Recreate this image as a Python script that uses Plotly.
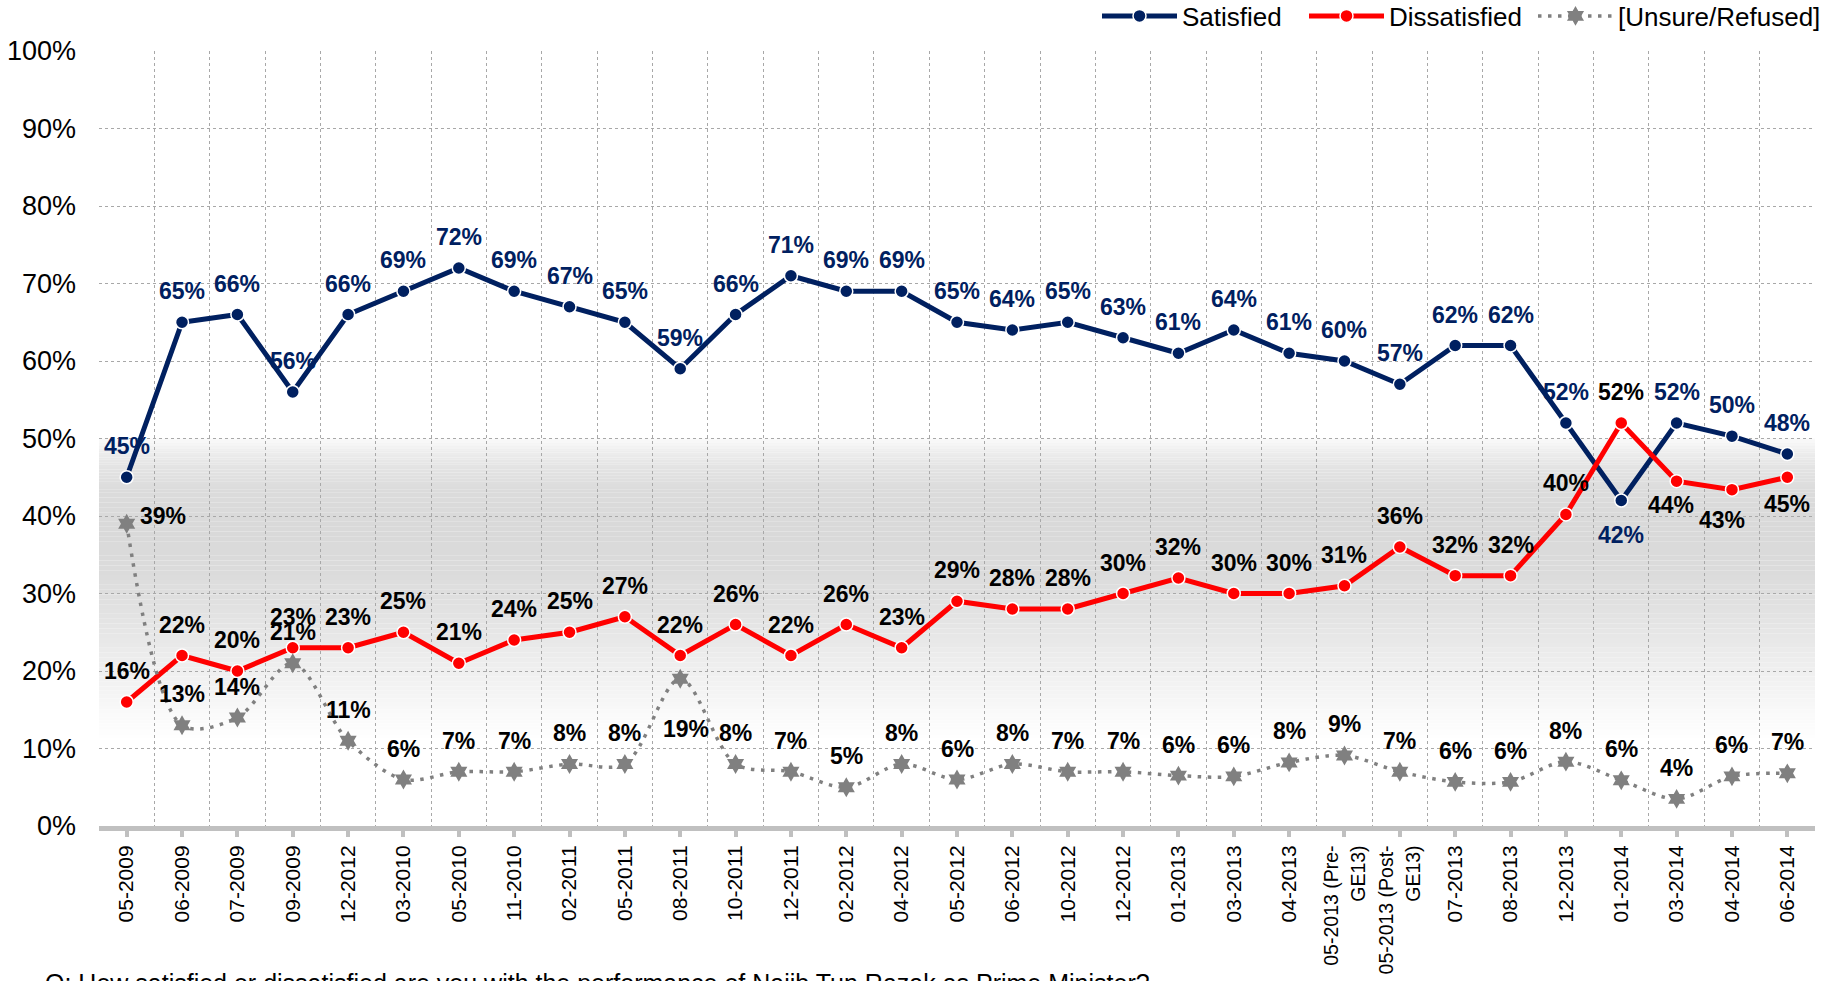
import plotly.graph_objects as go

periods = ["05-2009", "06-2009", "07-2009", "09-2009", "12-2012", "03-2010", "05-2010",
           "11-2010", "02-2011", "05-2011", "08-2011", "10-2011", "12-2011", "02-2012",
           "04-2012", "05-2012", "06-2012", "10-2012", "12-2012", "01-2013", "03-2013",
           "04-2013", "05-2013 (Pre-<br>GE13)", "05-2013 (Post-<br>GE13)", "07-2013",
           "08-2013", "12-2013", "01-2014", "03-2014", "04-2014", "06-2014"]

satisfied = [45, 65, 66, 56, 66, 69, 72, 69, 67, 65, 59, 66, 71, 69, 69, 65, 64, 65, 63,
             61, 64, 61, 60, 57, 62, 62, 52, 42, 52, 50.3, 48]
satisfied_labels = [45, 65, 66, 56, 66, 69, 72, 69, 67, 65, 59, 66, 71, 69, 69, 65, 64, 65, 63,
                    61, 64, 61, 60, 57, 62, 62, 52, 42, 52, 50, 48]

dissatisfied = [16, 22, 20, 23, 23, 25, 21, 24, 25, 27, 22, 26, 22, 26, 23, 29, 28, 28, 30,
                32, 30, 30, 31, 36, 32.3, 32.3, 40.2, 52, 44.5, 43.4, 45]
dissatisfied_labels = [16, 22, 20, 23, 23, 25, 21, 24, 25, 27, 22, 26, 22, 26, 23, 29, 28, 28, 30,
                       32, 30, 30, 31, 36, 32, 32, 40, 52, 44, 43, 45]

unsure = [39, 13, 14, 21, 11, 6, 7, 7, 8, 8, 19, 8, 7, 5, 8, 6, 8, 7, 7, 6.5, 6.4, 8.2, 9.1,
          7, 5.7, 5.7, 8.3, 5.9, 3.5, 6.4, 6.8]
unsure_labels = [39, 13, 14, 21, 11, 6, 7, 7, 8, 8, 19, 8, 7, 5, 8, 6, 8, 7, 7, 6, 6, 8, 9,
                 7, 6, 6, 8, 6, 4, 6, 7]

NAVY = "#002060"
RED = "#FF0000"
GRAY = "#808080"
FONT = "Liberation Sans, Arial, sans-serif"

n = len(periods)
xs = list(range(n))
# two-line tick labels are set a touch smaller so they fit above the page edge
tick_text = [f'<span style="font-size:19.5px">{p}</span>' if "<br>" in p else p for p in periods]

fig = go.Figure()

# background gradient band (decoration)
stops = [(50, 250), (48.5, 238), (46, 226), (43, 219), (38, 217), (33, 219),
         (28, 225), (23, 234), (18, 243), (14, 250), (11, 255)]
for k in range(len(stops) - 1):
    y0, c0 = stops[k]
    y1, c1 = stops[k + 1]
    steps = 8
    for s in range(steps):
        ya = y0 + (y1 - y0) * s / steps
        yb = y0 + (y1 - y0) * (s + 1) / steps
        c = int(round(c0 + (c1 - c0) * (s + 0.5) / steps))
        fig.add_shape(type="rect", xref="paper", yref="y", x0=0, x1=1, y0=yb, y1=ya,
                      fillcolor=f"rgb({c},{c},{c})", line=dict(width=0), layer="below")

fig.add_trace(go.Scatter(
    x=xs, y=satisfied, name="Satisfied", mode="lines+markers", legend="legend",
    line=dict(color=NAVY, width=5),
    marker=dict(symbol="circle", size=13, color=NAVY, line=dict(color="white", width=1.5)),
))
fig.add_trace(go.Scatter(
    x=xs, y=dissatisfied, name="Dissatisfied", mode="lines+markers", legend="legend2",
    line=dict(color=RED, width=5),
    marker=dict(symbol="circle", size=13, color=RED, line=dict(color="white", width=1.5)),
))
fig.add_trace(go.Scatter(
    x=xs, y=unsure, name="[Unsure/Refused]", mode="lines+markers", legend="legend3",
    line=dict(color=GRAY, width=3.5, dash="3.5px,6.5px", shape="spline", smoothing=0.9),
    marker=dict(symbol="hexagram", size=15, color=GRAY, line=dict(color=GRAY, width=0)),
))

# data labels
sat_pos = {27: (0, -34)}
dis_pos = {28: (-6, -24), 29: (-10, -30), 30: (0, -27)}
uns_pos = {0: (36, 8), 10: (6, -50)}

def add_labels(vals, labs, color, special):
    for i, (v, l) in enumerate(zip(vals, labs)):
        dx, dy = special.get(i, (0, 31))
        fig.add_annotation(x=i, y=v, xref="x", yref="y", text=f"{l}%", showarrow=False,
                           xshift=dx, yshift=dy, xanchor="center", yanchor="middle",
                           font=dict(family=FONT, size=23, color=color, weight="bold"))

add_labels(satisfied, satisfied_labels, NAVY, sat_pos)
add_labels(dissatisfied, dissatisfied_labels, "#000000", dis_pos)
add_labels(unsure, unsure_labels, "#000000", uns_pos)

fig.add_annotation(
    xref="paper", yref="paper", x=-0.0326, y=-0.182, xanchor="left", yanchor="top",
    text="Q: How satisfied or dissatisfied are you with the performance of Najib Tun Razak as Prime Minister?",
    showarrow=False, font=dict(family=FONT, size=25, color="#000000"))

W, H = 1837, 981

def legend_box(x_px):
    return dict(orientation="h", xref="container", yref="container",
                x=x_px / W, xanchor="left", y=1 - 16 / H, yanchor="middle",
                font=dict(family=FONT, size=26, color="#000000"), bgcolor="rgba(0,0,0,0)",
                itemwidth=75, tracegroupgap=0)

fig.update_layout(
    width=W, height=H,
    margin=dict(l=99, r=22, t=51, b=155, autoexpand=False),
    paper_bgcolor="white", plot_bgcolor="white",
    font=dict(family=FONT, color="#000000"),
    showlegend=True,
    legend=legend_box(1097),
    legend2=legend_box(1304),
    legend3=legend_box(1533),
    xaxis=dict(
        range=[-0.5, n - 0.5], tickmode="array", tickvals=xs, ticktext=tick_text,
        tickangle=-90, tickfont=dict(family=FONT, size=21, color="#000000"),
        showgrid=False, zeroline=False, automargin=False,
        showline=True, linecolor="#C0C0C0", linewidth=5,
        ticks="outside", ticklen=6, tickwidth=4, tickcolor="#C0C0C0",
        minor=dict(tickmode="array", tickvals=[i + 0.5 for i in range(-1, n)],
                   showgrid=True, gridcolor="#A8A8A8", griddash="dot", gridwidth=1, ticks=""),
    ),
    yaxis=dict(
        range=[0, 100], dtick=10, tick0=0, ticksuffix="%", automargin=False,
        tickfont=dict(family=FONT, size=27, color="#000000"),
        showgrid=True, gridcolor="#A8A8A8", griddash="dot", gridwidth=1,
        zeroline=False, showline=False, ticklabelstandoff=22,
    ),
)

fig.write_html("out.html", config={"displayModeBar": False},
               post_script="document.body.style.margin='0';document.body.style.overflow='hidden';")
